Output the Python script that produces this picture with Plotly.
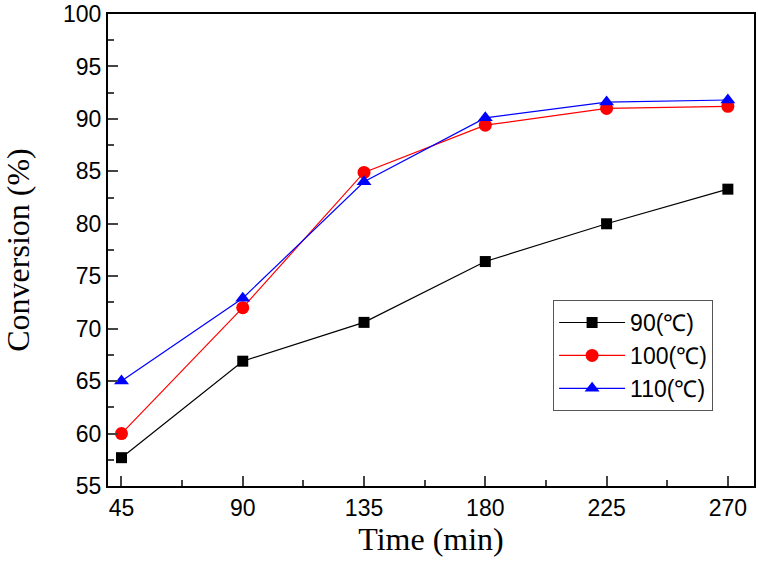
import plotly.graph_objects as go

time_min = [45, 90, 135, 180, 225, 270]
conv_90 = [57.7, 66.9, 70.6, 76.4, 80.0, 83.3]
conv_100 = [60.0, 72.0, 84.9, 89.4, 91.0, 91.2]
conv_110 = [65.0, 72.9, 84.0, 90.1, 91.6, 91.8]
y_ticks = [55, 60, 65, 70, 75, 80, 85, 90, 95, 100]

series = [
    ("90(℃)", conv_90, "#000000", "square", 11),
    ("100(℃)", conv_100, "#ff0000", "circle", 13),
    ("110(℃)", conv_110, "#0000ff", "triangle-up", 13),
]

fig = go.Figure()
for name, vals, color, sym, size in series:
    fig.add_trace(go.Scatter(
        x=time_min, y=vals, name=name, mode="lines+markers",
        line=dict(color=color, width=1.2),
        marker=dict(symbol=sym, size=size, color=color),
    ))

fig.update_layout(
    width=758, height=573,
    margin=dict(l=108, r=4, t=14, b=87),
    paper_bgcolor="white", plot_bgcolor="white",
    font=dict(family="Liberation Sans, Arial", size=23, color="black"),
    legend=dict(
        x=0.689, y=0.394, xanchor="left", yanchor="top",
        bordercolor="#555555", borderwidth=1, bgcolor="white",
        font=dict(family="Liberation Sans, Arial", size=23),
        itemwidth=66, tracegroupgap=0,
    ),
    showlegend=True,
)

fig.update_xaxes(
    range=[40, 279.7], tickvals=time_min, ticks="inside", ticklen=10, tickwidth=1.5,
    showline=True, linewidth=2, linecolor="black", mirror=True, showgrid=False, zeroline=False,
    automargin=False, ticklabeloverflow="allow",
    minor=dict(dtick=22.5, tick0=45, ticks="inside", ticklen=6, tickwidth=1.5, showgrid=False),
    title=dict(text="Time (min)", font=dict(family="Liberation Serif, Times New Roman", size=32), standoff=2),
)
fig.update_yaxes(
    range=[55, 100.001], tickvals=y_ticks, ticks="inside", ticklen=10, tickwidth=1.5,
    showline=True, linewidth=2, linecolor="black", mirror=True, showgrid=False, zeroline=False,
    automargin=False, ticklabeloverflow="allow",
    minor=dict(dtick=2.5, tick0=55, ticks="inside", ticklen=6, tickwidth=1.5, showgrid=False),
    title=dict(text="Conversion (%)", font=dict(family="Liberation Serif, Times New Roman", size=32), standoff=45),
)

fig.write_html(
    "out.html",
    config={"displayModeBar": False},
    post_script="document.body.style.margin='0';",
)
